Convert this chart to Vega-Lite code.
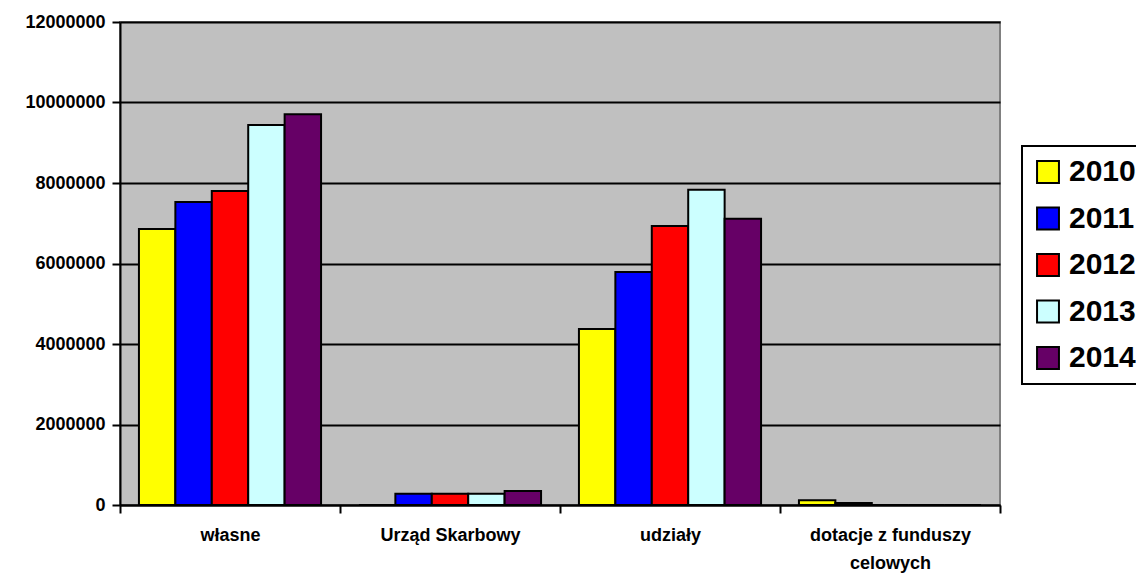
{
  "$schema": "https://vega.github.io/schema/vega-lite/v6.json",
  "width": 880,
  "height": 483,
  "autosize": {"type": "none"},
  "padding": {"left": 120, "top": 22, "right": 136, "bottom": 70},
  "background": "white",
  "config": {
    "view": {"fill": "#C0C0C0", "stroke": "#808080", "strokeWidth": 2},
    "font": "Liberation Sans",
    "legend": {"strokeColor": "black", "fillColor": "white", "strokeWidth": 2}
  },
  "data": {
    "values": [
      {"kategoria": "własne", "rok": "2010", "wartosc": 6860000},
      {"kategoria": "własne", "rok": "2011", "wartosc": 7530000},
      {"kategoria": "własne", "rok": "2012", "wartosc": 7800000},
      {"kategoria": "własne", "rok": "2013", "wartosc": 9440000},
      {"kategoria": "własne", "rok": "2014", "wartosc": 9710000},
      {"kategoria": "Urząd Skarbowy", "rok": "2010", "wartosc": 0},
      {"kategoria": "Urząd Skarbowy", "rok": "2011", "wartosc": 280000},
      {"kategoria": "Urząd Skarbowy", "rok": "2012", "wartosc": 280000},
      {"kategoria": "Urząd Skarbowy", "rok": "2013", "wartosc": 280000},
      {"kategoria": "Urząd Skarbowy", "rok": "2014", "wartosc": 350000},
      {"kategoria": "udziały", "rok": "2010", "wartosc": 4370000},
      {"kategoria": "udziały", "rok": "2011", "wartosc": 5790000},
      {"kategoria": "udziały", "rok": "2012", "wartosc": 6930000},
      {"kategoria": "udziały", "rok": "2013", "wartosc": 7830000},
      {"kategoria": "udziały", "rok": "2014", "wartosc": 7110000},
      {"kategoria": "dotacje z funduszy celowych", "rok": "2010", "wartosc": 120000},
      {"kategoria": "dotacje z funduszy celowych", "rok": "2011", "wartosc": 50000},
      {"kategoria": "dotacje z funduszy celowych", "rok": "2012", "wartosc": 0},
      {"kategoria": "dotacje z funduszy celowych", "rok": "2013", "wartosc": 0},
      {"kategoria": "dotacje z funduszy celowych", "rok": "2014", "wartosc": 0}
    ]
  },
  "mark": {"type": "bar", "stroke": "black", "strokeWidth": 2},
  "encoding": {
    "x": {
      "field": "kategoria",
      "type": "nominal",
      "sort": ["własne", "Urząd Skarbowy", "udziały", "dotacje z funduszy celowych"],
      "scale": {"paddingInner": 0, "paddingOuter": 0},
      "axis": {
        "title": null,
        "labelAngle": 0,
        "labelFont": "Liberation Sans",
        "labelFontSize": 18,
        "labelFontWeight": "bold",
        "labelColor": "black",
        "labelPadding": 13,
        "labelLineHeight": 28,
        "labelBaseline": "top",
        "labelExpr": "datum.label == 'dotacje z funduszy celowych' ? ['dotacje z funduszy', 'celowych'] : datum.label",
        "tickBand": "extent",
        "tickColor": "black",
        "tickWidth": 2,
        "tickSize": 8,
        "domainColor": "black",
        "domainWidth": 2,
        "grid": false
      }
    },
    "xOffset": {"field": "rok", "type": "nominal", "scale": {"paddingInner": 0, "paddingOuter": 0.52}},
    "y": {
      "field": "wartosc",
      "type": "quantitative",
      "scale": {"domain": [0, 12000000], "nice": false},
      "axis": {
        "title": null,
        "values": [0, 2000000, 4000000, 6000000, 8000000, 10000000, 12000000],
        "format": "d",
        "labelFont": "Liberation Sans",
        "labelFontSize": 18,
        "labelFontWeight": "bold",
        "labelColor": "black",
        "labelPadding": 7,
        "tickColor": "black",
        "tickWidth": 2,
        "tickSize": 8,
        "domainColor": "black",
        "domainWidth": 2,
        "grid": true,
        "gridColor": "black",
        "gridWidth": 2,
        "gridOpacity": 1
      }
    },
    "color": {
      "field": "rok",
      "type": "nominal",
      "scale": {
        "domain": ["2010", "2011", "2012", "2013", "2014"],
        "range": ["#FFFF00", "#0000FF", "#FF0000", "#CCFFFF", "#660066"]
      },
      "legend": {
        "title": null,
        "orient": "none",
        "legendX": 902,
        "legendY": 124,
        "padding": 11,
        "symbolType": "square",
        "symbolSize": 480,
        "symbolStrokeColor": "black",
        "symbolStrokeWidth": 2,
        "symbolOpacity": 1,
        "labelFont": "Liberation Sans",
        "labelFontSize": 30,
        "labelFontWeight": "bold",
        "labelColor": "black",
        "labelOffset": 6,
        "rowPadding": 16.5
      }
    }
  }
}
